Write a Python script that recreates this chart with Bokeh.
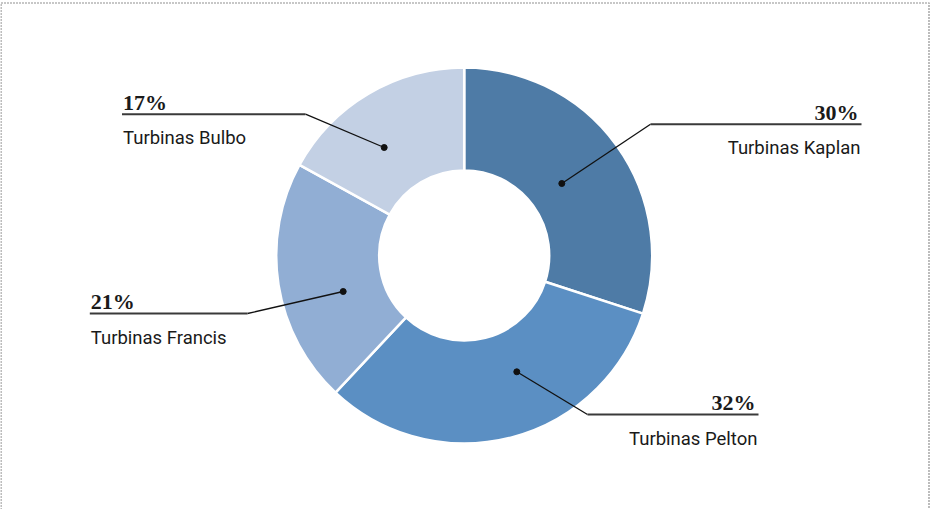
import math
from bokeh.plotting import figure
from bokeh.models import Range1d, ColumnDataSource
from bokeh.core.properties import value
from bokeh.embed import file_html
from bokeh.resources import INLINE

# ---- data ----
categories = ["Turbinas Kaplan", "Turbinas Pelton", "Turbinas Francis", "Turbinas Bulbo"]
shares = [30, 32, 21, 17]
pct_labels = ["30%", "32%", "21%", "17%"]
colors = ["#4e7ba6", "#5b8fc3", "#91aed4", "#c3d0e4"]

# ---- layout (page pixels) ----
W, H = 930, 509
def fx(px):
    return px - 8
def fy(py):
    return H - (py - 8)

cx, cy = 471.7, 263.0
r_out, r_in = 188, 85

# leader geometry per category: dot, elbow, underline end, side
dots = [(569.3, 191.0), (524.3, 379.3), (350.7, 299.0), (391.7, 155.0)]
elbows = [(658.0, 131.7), (595.0, 422.0), (255.0, 321.0), (313.0, 121.7)]
ends = [869.0, 766.0, 97.3, 129.5]
align = ["right", "right", "left", "left"]

p = figure(width=W, height=H, output_backend="svg", toolbar_location=None,
           x_range=Range1d(0, W), y_range=Range1d(0, H),
           min_border=0, outline_line_color=None)
p.axis.visible = False
p.grid.visible = False

# dotted frame
p.line(x=[0.5, 0.5, W - 1.5, W - 1.5], y=[0, H - 2.5, H - 2.5, 0],
       line_color="#222222", line_width=1.2, line_dash="1 2")

# donut
total = sum(shares)
starts, endsa = [], []
c = 0.0
for s in shares:
    c0 = c / total
    c += s
    c1 = c / total
    starts.append(math.pi / 2 - 2 * math.pi * c1)
    endsa.append(math.pi / 2 - 2 * math.pi * c0)
src = ColumnDataSource(dict(start=starts, end=endsa, color=colors, cat=categories))
p.annular_wedge(x=fx(cx), y=fy(cy), inner_radius=r_in, outer_radius=r_out,
                inner_radius_units="screen", outer_radius_units="screen",
                start_angle="start", end_angle="end", direction="anticlock",
                fill_color="color", line_color="white", line_width=2.5, source=src)

# leaders and labels
for i, cat in enumerate(categories):
    dx, dy = dots[i]
    ex, ey = elbows[i]
    p.line(x=[fx(dx), fx(ex)], y=[fy(dy), fy(ey)], line_color="#111111", line_width=1.3)
    p.line(x=[fx(ex), fx(ends[i])], y=[fy(ey), fy(ey)], line_color="#3a3a3a", line_width=2)
    p.scatter(x=[fx(dx)], y=[fy(dy)], size=6, color="#111111")
    tx = ends[i] - 3 if align[i] == "right" else ends[i] + 1
    p.text(x=[fx(tx)], y=[fy(ey - 12)], text=[pct_labels[i]],
           text_font=value("Liberation Serif"), text_font_style="bold",
           text_font_size="22px", text_color="#1a1a1a",
           text_align=align[i], text_baseline="alphabetic")
    tx2 = ends[i] - 1 if align[i] == "right" else ends[i] + 1
    p.text(x=[fx(tx2)], y=[fy(ey + 24)], text=[cat],
           text_font=value("Roboto"), text_font_size="18.5px", text_color="#1a1a1a",
           text_align=align[i], text_baseline="alphabetic")

open("out.html", "w").write(file_html(p, INLINE))
